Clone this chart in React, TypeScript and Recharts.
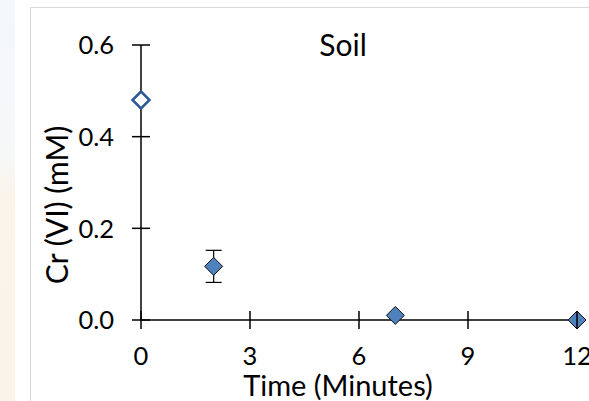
import React from 'react';
import { ScatterChart, Scatter, XAxis, YAxis, ErrorBar } from 'recharts';

// time (minutes) vs Cr(VI) concentration (mM)
const openTimes = [0];
const openValues = [0.48];
const openErrors = [0.004];

const filledTimes = [2, 7, 12];
const filledValues = [0.117, 0.01, 0.0];
const filledErrors = [0.035, 0, 0];

const xTicks = [0, 3, 6, 9, 12];
const yTicks = [0, 0.2, 0.4, 0.6];

const openData = openTimes.map((t, i) => ({ t, v: openValues[i], err: openErrors[i] }));
const filledData = filledTimes.map((t, i) => ({ t, v: filledValues[i], err: filledErrors[i] }));

const FONT = 'Lato, "Open Sans", sans-serif';

const Diamond = (props: any) => {
  const { cx, cy, fill, stroke, strokeWidth } = props;
  const r = props.r || 9;
  return (
    <polygon
      points={`${cx},${cy - r} ${cx + r},${cy} ${cx},${cy + r} ${cx - r},${cy}`}
      fill={fill}
      stroke={stroke}
      strokeWidth={strokeWidth}
    />
  );
};

const YTick = (props: any) => {
  const { x, y, payload } = props;
  const axisX = x + 9 + 18;
  return (
    <g>
      <line x1={axisX - 9} x2={axisX + 9} y1={y} y2={y} stroke="#000" strokeWidth={1.5} />
      <text x={x} y={y} dy="0.36em" textAnchor="end" fontSize={25.5} fontFamily={FONT} fill="#000">
        {Number(payload.value).toFixed(1)}
      </text>
    </g>
  );
};

const XTick = (props: any) => {
  const { x, y, payload } = props;
  const axisY = y - 9 - 27;
  return (
    <g>
      <line x1={x} x2={x} y1={axisY - 9} y2={axisY + 9} stroke="#000" strokeWidth={1.5} />
      <text x={x} y={y} dy="0.36em" textAnchor="middle" fontSize={25.5} fontFamily={FONT} fill="#000">
        {payload.value}
      </text>
    </g>
  );
};

export default function App() {
  return (
    <div style={{ position: 'absolute', left: 0, top: 0, width: 589, height: 401, background: '#fff', overflow: 'hidden' }}>
      <div
        style={{
          position: 'absolute', left: 0, top: 0, width: 15, height: 401,
          background: 'linear-gradient(#f3f8fc 0%, #f6f8f8 38%, #fbf4ea 50%, #faf3ea 100%)',
        }}
      />
      <div
        style={{
          position: 'absolute', left: 30, top: 7, width: 600, height: 420,
          borderLeft: '1px solid #d9d9d9', borderTop: '1px solid #d9d9d9',
        }}
      />
      <div style={{ position: 'absolute', left: 0, top: 0 }}>
        <ScatterChart width={589} height={401} margin={{ top: 45, right: 12, bottom: 41, left: 0 }}>
          <XAxis
            type="number"
            dataKey="t"
            domain={[0, 12]}
            ticks={xTicks}
            interval={0}
            tickSize={9}
            tickMargin={27}
            tickLine={false}
            tick={<XTick />}
            axisLine={{ stroke: '#000', strokeWidth: 1.5 }}
            height={40}
          />
          <YAxis
            type="number"
            dataKey="v"
            domain={[0, 0.6]}
            ticks={yTicks}
            interval={0}
            tickSize={9}
            tickMargin={18}
            tickLine={false}
            tick={<YTick />}
            axisLine={{ stroke: '#000', strokeWidth: 1.5 }}
            width={141}
          />
          <Scatter
            data={filledData}
            isAnimationActive={false}
            shape={<Diamond fill="#4f81bd" stroke="#111" strokeWidth={1} r={9} />}
          >
            <ErrorBar dataKey="err" direction="y" width={8} stroke="#000" strokeWidth={1.2} />
          </Scatter>
          <Scatter
            data={openData}
            isAnimationActive={false}
            shape={<Diamond fill="#fff" stroke="#2a5a96" strokeWidth={2.5} r={8.5} />}
          >
            <ErrorBar dataKey="err" direction="y" width={4} stroke="#000" strokeWidth={1} />
          </Scatter>
          <text x={343} y={45} dy="0.36em" textAnchor="middle" fontSize={30} fontFamily={FONT} fill="#000">
            Soil
          </text>
          <text x={338} y={386} dy="0.36em" textAnchor="middle" fontSize={29} fontFamily={FONT} fill="#000">
            Time (Minutes)
          </text>
          <text
            x={57}
            y={205}
            dy="0.36em"
            textAnchor="middle"
            fontSize={30}
            fontFamily={FONT}
            fill="#000"
            transform="rotate(-90, 57, 205)"
          >
            Cr (VI) (mM)
          </text>
        </ScatterChart>
      </div>
    </div>
  );
}
